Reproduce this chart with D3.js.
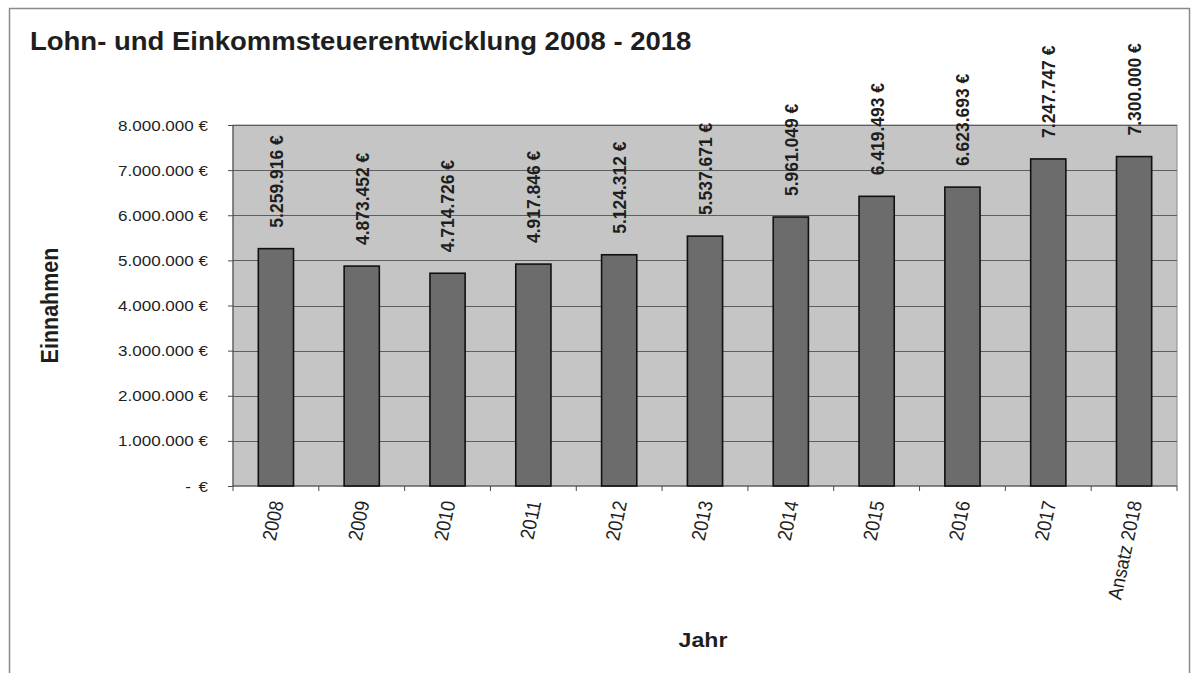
<!DOCTYPE html>
<html><head><meta charset="utf-8">
<script src="https://cdn.jsdelivr.net/npm/d3@7"></script>
<style>
html,body{margin:0;padding:0;background:#fff;}
svg text{font-family:Arial,"Liberation Sans",sans-serif;fill:#1e1e1e;}
</style></head>
<body>
<svg id="c" width="1191" height="673"></svg>
<script>
const categories = ["2008","2009","2010","2011","2012","2013","2014","2015","2016","2017","Ansatz 2018"];
const values = [5259916,4873452,4714726,4917846,5124312,5537671,5961049,6419493,6623693,7247747,7300000];
const yTicks = [0,1000000,2000000,3000000,4000000,5000000,6000000,7000000,8000000];
const title = "Lohn- und Einkommsteuerentwicklung 2008 - 2018";
const yTitle = "Einnahmen";
const xTitle = "Jahr";

const SX = 1.1; // horizontal stretch of the scanned original
const svg = d3.select("#c");
const L = 233, R = 1177, T = 125, B = 486;

const de = d3.formatLocale({decimal:",", thousands:".", grouping:[3], currency:["","\u00a0€"]});
const fmt = v => de.format(",.0f")(v) + " €";

const x = d3.scaleBand().domain(categories).range([L, R]).paddingInner(0.59).paddingOuter(0.295);
const xc = d3.scaleBand().domain(categories).range([L, R]);
const y = d3.scaleLinear().domain([0, 8000000]).range([B, T]);

// outer frame
svg.append("rect").attr("x", 9.5).attr("y", 8.5).attr("width", 1180).attr("height", 700)
  .attr("fill", "none").attr("stroke", "#8a8a8a").attr("stroke-width", 1.5);

// plot area
svg.append("rect").attr("x", L).attr("y", T).attr("width", R - L).attr("height", B - T)
  .attr("fill", "#c5c5c5").attr("stroke", "#8c8c8c").attr("stroke-width", 1);

// gridlines
svg.append("g").selectAll("line").data(yTicks.filter(d => d > 0)).join("line")
  .attr("x1", L).attr("x2", R).attr("y1", d => Math.round(y(d)) + 0.5).attr("y2", d => Math.round(y(d)) + 0.5)
  .attr("stroke", "#5e5e5e").attr("stroke-width", 1);

// y axis
const yAxis = svg.append("g").attr("transform", `translate(${L},0)`)
  .call(d3.axisLeft(y).tickValues(yTicks).tickSize(5).tickFormat(""));
yAxis.selectAll("path,line").attr("stroke", "#4a4a4a");
yAxis.select(".domain").attr("d", `M0,${T}V${B}`);

// x axis
const xAxis = svg.append("g").attr("transform", `translate(0,${B})`);
xAxis.append("line").attr("x1", L).attr("x2", R).attr("stroke", "#4a4a4a");
xAxis.selectAll("line.t").data(categories.concat(["_end"])).join("line").attr("class", "t")
  .attr("x1", (d, i) => i < categories.length ? xc(d) : R)
  .attr("x2", (d, i) => i < categories.length ? xc(d) : R)
  .attr("y1", 0).attr("y2", 5).attr("stroke", "#4a4a4a");

// y tick labels
svg.append("g").selectAll("g").data(yTicks).join("g")
  .each(function(d) {
    const g = d3.select(this);
    const yy = y(d) + 5.5;
    if (d === 0) {
      g.append("text").attr("transform", `translate(208,${yy}) scale(${SX},1)`)
        .attr("text-anchor", "end").attr("font-size", 15.5).text("€");
      g.append("text").attr("transform", `translate(188,${yy}) scale(${SX},1)`)
        .attr("text-anchor", "middle").attr("font-size", 15.5).text("-");
    } else {
      g.append("text").attr("transform", `translate(208,${yy}) scale(${SX},1)`)
        .attr("text-anchor", "end").attr("font-size", 15.5).text(fmt(d));
    }
  });

// bars
svg.append("g").selectAll("rect").data(values).join("rect")
  .attr("x", (d, i) => x(categories[i])).attr("width", x.bandwidth())
  .attr("y", d => y(d)).attr("height", d => B - y(d))
  .attr("fill", "#6c6c6c").attr("stroke", "#111").attr("stroke-width", 1.6);

// data labels
svg.append("g").selectAll("text").data(values).join("text")
  .attr("transform", (d, i) => `translate(${x(categories[i]) + x.bandwidth() / 2},${y(d) - 21}) scale(${SX},1) rotate(-90)`)
  .attr("dy", "0.36em").attr("text-anchor", "start")
  .attr("font-size", 17.5).attr("font-weight", "bold").text(d => fmt(d));

// x tick labels
svg.append("g").selectAll("text").data(categories).join("text")
  .attr("transform", d => `translate(${xc(d) + xc.bandwidth() / 2 + 1},${B + 15}) scale(${SX},1) rotate(-79)`)
  .attr("dy", "0.36em").attr("text-anchor", "end")
  .attr("font-size", 18).text(d => d);

// titles
svg.append("text").attr("transform", `translate(30,50) scale(${SX},1)`)
  .attr("font-size", 25).attr("font-weight", "bold").text(title);
svg.append("text").attr("transform", `translate(${(L + R) / 2 - 2},647) scale(${SX},1)`)
  .attr("text-anchor", "middle").attr("font-size", 21).attr("font-weight", "bold").text(xTitle);
svg.append("text").attr("transform", `translate(49,${(T + B) / 2}) scale(${SX},1) rotate(-90)`)
  .attr("text-anchor", "middle").attr("dy", "0.36em")
  .attr("font-size", 21.5).attr("font-weight", "bold").text(yTitle);
</script>
</body></html>
